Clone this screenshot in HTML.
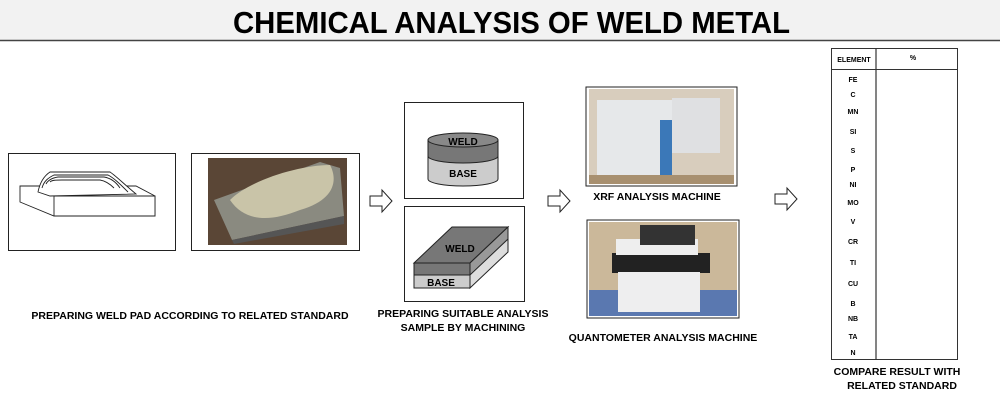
<!DOCTYPE html>
<html><head><style>
body{margin:0;background:#fff;}
svg{display:block;font-family:"Liberation Sans",Arial,sans-serif;}
</style></head><body>
<svg width="1000" height="406" viewBox="0 0 1000 406">
<rect x="0" y="0" width="1000" height="40" fill="#f2f2f2"/>
<line x1="0" y1="40.5" x2="1000" y2="40.5" stroke="#444" stroke-width="1.5"/>
<text x="233" y="33" font-size="31" font-weight="bold" fill="#000" textLength="557" lengthAdjust="spacingAndGlyphs">CHEMICAL ANALYSIS OF WELD METAL</text>

<!-- box1 drawing -->
<rect x="8.5" y="153.5" width="167" height="97" fill="#fff" stroke="#222"/>
<g fill="#fff" stroke="#222" stroke-width="0.9">
<path d="M20,186 L54,186 L136,186 L155,196 L155,216 L54,216 L20,202 Z"/>
<path d="M54,196 L155,196 L155,216 L54,216 Z"/>
<path d="M38,192 C40,182 44,176 50,172 L110,172 C116,176 124,184 136,194 L50,196 Z"/>
<path d="M42,188 C44,181 48,178 54,175 L108,175 C114,178 120,184 128,192"/>
<path d="M46,184 C48,180 52,178 58,177 L104,177 C110,178 116,182 120,188"/>
<path d="M50,182 C52,180 56,180 62,180 L100,180 C106,181 110,184 114,188"/>
</g>
<!-- box2 photo -->
<rect x="191.5" y="153.5" width="168" height="97" fill="#fff" stroke="#222"/>
<rect x="208" y="158" width="139" height="87" fill="#5a4636"/>
<path d="M214,200 L320,162 L340,168 L344,216 L232,240 Z" fill="#8a8a80"/>
<path d="M232,240 L344,216 L344,224 L234,244 Z" fill="#555"/>
<path d="M230,200 C250,180 300,165 330,165 C338,180 335,200 300,210 C270,222 245,222 230,200 Z" fill="#c9c4a8"/>

<!-- box3 cylinder -->
<rect x="404.5" y="102.5" width="119" height="96" fill="#fff" stroke="#222"/>
<path d="M428,140 L428,179 A35,7 0 0 0 498,179 L498,140 Z" fill="#ccc" stroke="#222"/>
<path d="M428,140 L428,156 A35,7 0 0 0 498,156 L498,140 Z" fill="#777" stroke="#222"/>
<ellipse cx="463" cy="140" rx="35" ry="7" fill="#888" stroke="#222"/>
<text x="463" y="145" text-anchor="middle" font-size="10" font-weight="bold">WELD</text>
<text x="463" y="177" text-anchor="middle" font-size="10" font-weight="bold">BASE</text>

<!-- box4 block -->
<rect x="404.5" y="206.5" width="120" height="95" fill="#fff" stroke="#222"/>
<path d="M414,263 L452,227 L508,227 L470,263 Z" fill="#777" stroke="#222"/>
<path d="M470,263 L508,227 L508,252 L470,288 Z" fill="#ddd" stroke="#222"/>
<path d="M470,263 L508,227 L508,239 L470,275 Z" fill="#999" stroke="#222"/>
<rect x="414" y="263" width="56" height="12" fill="#777" stroke="#222"/>
<rect x="414" y="275" width="56" height="13" fill="#ccc" stroke="#222"/>
<text x="460" y="252" text-anchor="middle" font-size="10" font-weight="bold">WELD</text>
<text x="441" y="286" text-anchor="middle" font-size="10" font-weight="bold">BASE</text>

<!-- XRF photo -->
<rect x="586" y="87" width="151" height="99" fill="#fff" stroke="#222"/>
<rect x="589" y="89" width="145" height="95" fill="#d8cdbd"/>
<rect x="597" y="100" width="75" height="82" fill="#e6e8ea"/>
<rect x="660" y="120" width="12" height="60" fill="#3b78b8"/>
<rect x="672" y="98" width="48" height="55" fill="#dfe0e2"/>
<rect x="589" y="175" width="145" height="9" fill="#a89070"/>
<!-- Quant photo -->
<rect x="587" y="220" width="152" height="98" fill="#fff" stroke="#222"/>
<rect x="589" y="222" width="148" height="94" fill="#cbb89a"/>
<rect x="589" y="290" width="148" height="26" fill="#5a78b0"/>
<rect x="612" y="253" width="98" height="20" fill="#222"/>
<rect x="616" y="239" width="82" height="16" fill="#eee"/>
<rect x="618" y="272" width="82" height="40" fill="#eeeeef"/>
<rect x="640" y="225" width="55" height="20" fill="#333"/>

<!-- arrows -->
<g fill="#fff" stroke="#222" stroke-width="1">
<path d="M370,196 L382,196 L382,190 L392,201 L382,212 L382,206 L370,206 Z"/>
<path d="M548,196 L560,196 L560,190 L570,201 L560,212 L560,206 L548,206 Z"/>
<path d="M775,194 L787,194 L787,188 L797,199 L787,210 L787,204 L775,204 Z"/>
</g>

<g font-size="10.5" font-weight="bold" text-anchor="middle">
<text x="190" y="319">PREPARING WELD PAD ACCORDING TO RELATED STANDARD</text>
<text x="463" y="317">PREPARING SUITABLE ANALYSIS</text>
<text x="463" y="331">SAMPLE BY MACHINING</text>
<text x="657" y="200">XRF ANALYSIS MACHINE</text>
<text x="663" y="341">QUANTOMETER ANALYSIS MACHINE</text>
<text x="897" y="375">COMPARE RESULT WITH</text>
<text x="902" y="389">RELATED STANDARD</text>
</g>

<!-- table -->
<rect x="831.5" y="48.5" width="126" height="311" fill="#fff" stroke="#333"/>
<line x1="876" y1="48" x2="876" y2="360" stroke="#333" stroke-width="1.2"/>
<line x1="831" y1="69.5" x2="958" y2="69.5" stroke="#333"/>
<g font-size="7" font-weight="bold" text-anchor="middle">
<text x="854" y="62">ELEMENT</text>
<text x="913" y="60">%</text>
<text x="853" y="82">FE</text>
<text x="853" y="97">C</text>
<text x="853" y="114">MN</text>
<text x="853" y="134">SI</text>
<text x="853" y="153">S</text>
<text x="853" y="172">P</text>
<text x="853" y="187">NI</text>
<text x="853" y="205">MO</text>
<text x="853" y="224">V</text>
<text x="853" y="244">CR</text>
<text x="853" y="265">TI</text>
<text x="853" y="286">CU</text>
<text x="853" y="306">B</text>
<text x="853" y="321">NB</text>
<text x="853" y="339">TA</text>
<text x="853" y="355">N</text>
</g>
</svg>
</body></html>
